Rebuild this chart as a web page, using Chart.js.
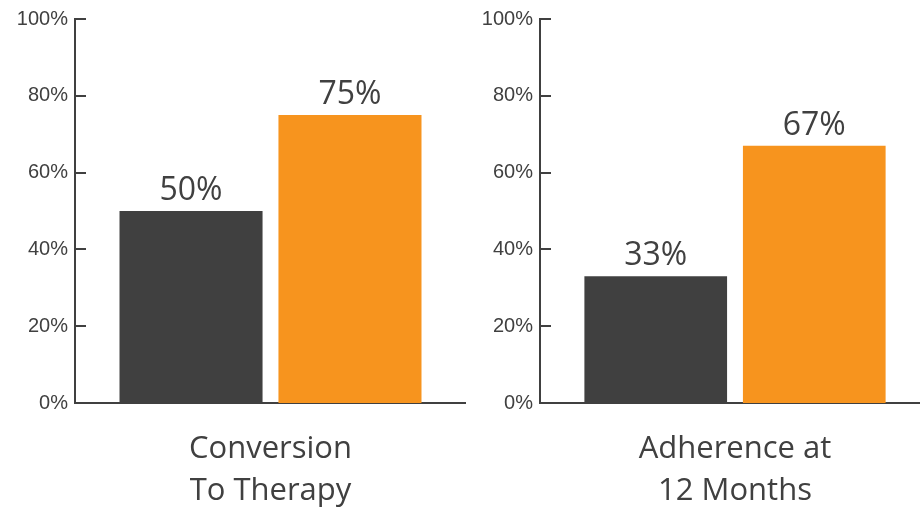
<!DOCTYPE html>
<html>
<head>
<meta charset="utf-8">
<script src="https://cdn.jsdelivr.net/npm/chart.js@4/dist/chart.umd.min.js"></script>
<style>
  html, body { margin: 0; padding: 0; background: #ffffff; }
  body { width: 920px; height: 509px; overflow: hidden; position: relative; }
  canvas { position: absolute; top: 0; }
  #left { left: 0; }
  #right { left: 465px; }
</style>
</head>
<body>
<canvas id="left" width="466" height="509"></canvas>
<canvas id="right" width="465" height="509"></canvas>
<script>
// Two outcome measures, each compared across two groups
const conversionCategory = [['Conversion', 'To Therapy']];
const adherenceCategory = [['Adherence at', '12 Months']];
const conversionValues = [50, 75];
const adherenceValues = [33, 67];
const seriesColors = ['#404040', '#F7941E'];
const yTicks = [0, 20, 40, 60, 80, 100];

const textColor = '#404040';

// Short tick marks pointing into the plot from the y axis line
const inwardTicks = {
  id: 'inwardTicks',
  afterDraw(chart) {
    const { ctx, chartArea, scales } = chart;
    const y = scales.y;
    ctx.save();
    ctx.strokeStyle = textColor;
    ctx.lineWidth = 2;
    yTicks.forEach(v => {
      const py = Math.round(y.getPixelForValue(v));
      ctx.beginPath();
      ctx.moveTo(chartArea.left, py);
      ctx.lineTo(chartArea.left + 11, py);
      ctx.stroke();
    });
    ctx.restore();
  }
};

// Percent labels above each bar
const valueLabels = {
  id: 'valueLabels',
  afterDatasetsDraw(chart) {
    const { ctx } = chart;
    ctx.save();
    ctx.fillStyle = textColor;
    ctx.font = '32px "Open Sans"';
    ctx.textAlign = 'center';
    ctx.textBaseline = 'alphabetic';
    chart.data.datasets.forEach((ds, i) => {
      chart.getDatasetMeta(i).data.forEach((bar, j) => {
        ctx.fillText(ds.data[j] + '%', bar.x, bar.y - 11);
      });
    });
    ctx.restore();
  }
};

function buildChart(canvasId, category, values) {
  return new Chart(document.getElementById(canvasId), {
    type: 'bar',
    data: {
      labels: category,
      datasets: values.map((v, i) => ({
        data: [v],
        backgroundColor: seriesColors[i],
        borderWidth: 0,
        categoryPercentage: 0.813,
        barPercentage: 0.9
      }))
    },
    options: {
      responsive: false,
      animation: false,
      devicePixelRatio: 1,
      layout: { padding: { top: 14, right: 0, bottom: 0, left: 0 } },
      plugins: {
        legend: { display: false },
        tooltip: { enabled: false }
      },
      scales: {
        x: {
          grid: { display: false, drawTicks: false },
          border: { display: true, color: textColor, width: 2 },
          ticks: {
            color: textColor,
            padding: 26,
            maxRotation: 0,
            autoSkip: false,
            font: { family: '"Open Sans"', size: 31, lineHeight: 1.33 }
          },
          afterFit(scale) { scale.height = 106; }
        },
        y: {
          min: 0,
          max: 100,
          grid: { display: false, drawTicks: false },
          border: { display: true, color: textColor, width: 2 },
          afterBuildTicks(scale) { scale.ticks = yTicks.map(v => ({ value: v })); },
          ticks: {
            color: textColor,
            padding: 7,
            font: { family: '"Liberation Sans", Arial, sans-serif', size: 20 },
            callback: v => v + '%'
          },
          afterFit(scale) { scale.width = 75; }
        }
      }
    },
    plugins: [inwardTicks, valueLabels]
  });
}

buildChart('left', conversionCategory, conversionValues);
buildChart('right', adherenceCategory, adherenceValues);
</script>
</body>
</html>
